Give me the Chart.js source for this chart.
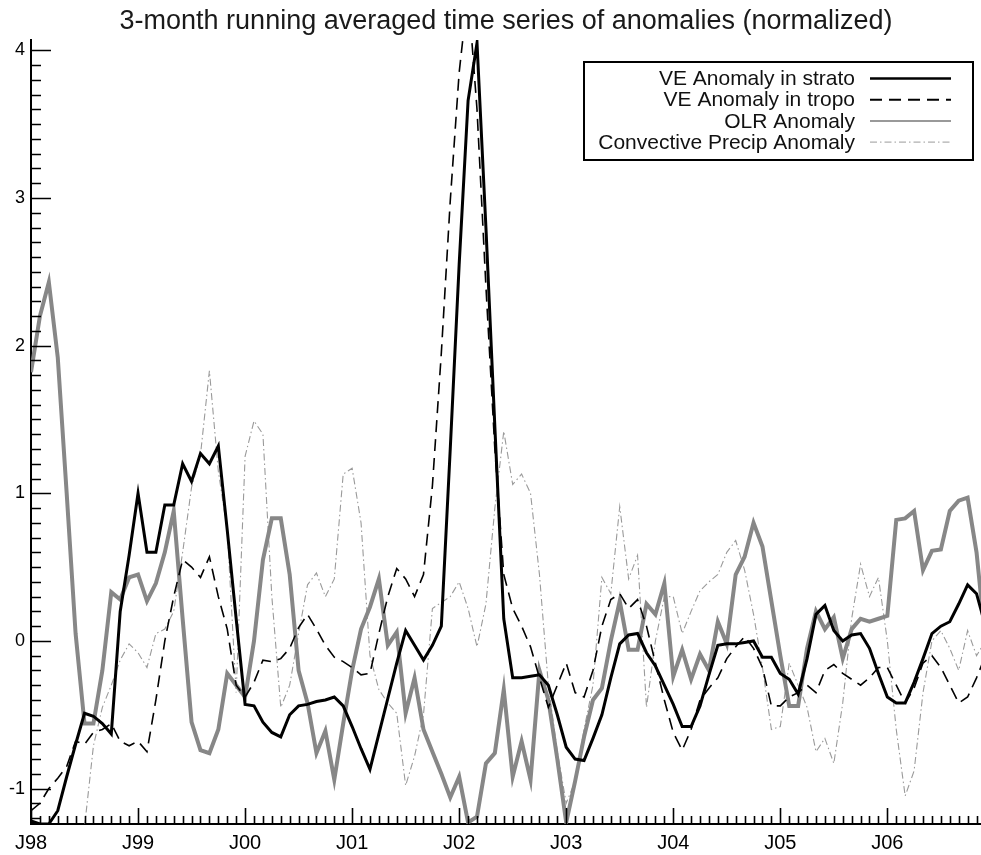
<!DOCTYPE html>
<html>
<head>
<meta charset="utf-8">
<script src="https://cdn.jsdelivr.net/npm/chart.js@4/dist/chart.umd.min.js"></script>
<style>
  html, body { margin: 0; padding: 0; background: #fff; }
  #chart { display: block; }
</style>
</head>
<body>
<canvas id="chart" width="981" height="855"></canvas>
<script>
/* 3-month running averaged anomalies, monthly from Jan 1998 */

const TITLE = '3-month running averaged time series of anomalies (normalized)';
const SERIES_NAMES = ['VE Anomaly in strato', 'VE Anomaly in tropo', 'OLR Anomaly', 'Convective Precip Anomaly'];

const X_TICK_MONTHS = [0, 12, 24, 36, 48, 60, 72, 84, 96];
const X_TICK_LABELS = ['J98', 'J99', 'J00', 'J01', 'J02', 'J03', 'J04', 'J05', 'J06'];
const Y_TICKS = [-1, 0, 1, 2, 3, 4];
const Y_TICK_LABELS = ['-1', '0', '1', '2', '3', '4'];

// values month by month (index 0 = Jan 1998)
const veStrato = [
  -1.22, -1.24, -1.24, -1.15, -0.92, -0.70, -0.49, -0.51, -0.56, -0.63, 0.20, 0.58,
  1.00, 0.60, 0.60, 0.92, 0.92, 1.20, 1.08, 1.27, 1.20, 1.32, 0.75, 0.15,
  -0.43, -0.44, -0.55, -0.62, -0.65, -0.50, -0.44, -0.43, -0.41, -0.40, -0.38, -0.44,
  -0.58, -0.73, -0.87, -0.63, -0.39, -0.15, 0.07, -0.03, -0.13, -0.03, 0.10, 1.30,
  2.55, 3.66, 4.05, 2.80, 1.45, 0.15, -0.25, -0.25, -0.24, -0.23, -0.30, -0.50,
  -0.72, -0.80, -0.81, -0.66, -0.50, -0.25, -0.02, 0.04, 0.05, -0.08, -0.17, -0.30,
  -0.43, -0.58, -0.58, -0.44, -0.23, -0.03, -0.02, -0.02, -0.01, 0.00, -0.11, -0.11,
  -0.22, -0.26, -0.36, -0.12, 0.18, 0.24, 0.07, 0.00, 0.04, 0.05, -0.05, -0.22,
  -0.38, -0.42, -0.42, -0.28, -0.12, 0.05, 0.10, 0.13, 0.25, 0.38, 0.32, 0.10
];
const veTropo = [
  -1.15, -1.10, -1.00, -0.93, -0.85, -0.68, -0.70, -0.62, -0.60, -0.56, -0.68, -0.71,
  -0.68, -0.75, -0.40, 0.00, 0.30, 0.55, 0.50, 0.43, 0.57, 0.30, 0.08, -0.30,
  -0.38, -0.28, -0.13, -0.14, -0.12, -0.05, 0.09, 0.18, 0.08, -0.03, -0.11, -0.14,
  -0.18, -0.23, -0.22, 0.05, 0.30, 0.49, 0.42, 0.30, 0.45, 1.05, 1.95, 2.98,
  3.85, 4.40, 3.60, 2.40, 1.30, 0.45, 0.22, 0.10, -0.04, -0.25, -0.45, -0.30,
  -0.15, -0.35, -0.38, -0.20, 0.10, 0.28, 0.32, 0.22, 0.28, 0.10, -0.15, -0.40,
  -0.62, -0.74, -0.60, -0.40, -0.32, -0.25, -0.12, -0.04, 0.03, -0.05, -0.18, -0.44,
  -0.44, -0.38, -0.35, -0.30, -0.35, -0.20, -0.16, -0.22, -0.26, -0.30, -0.25, -0.18,
  -0.18, -0.30, -0.42, -0.32, -0.15, -0.10, -0.18, -0.30, -0.42, -0.38, -0.25, -0.10
];
const olr = [
  1.82, 2.20, 2.43, 1.92, 1.00, 0.05, -0.56, -0.56, -0.20, 0.33, 0.28, 0.43,
  0.45, 0.27, 0.39, 0.60, 0.88, 0.15, -0.55, -0.74, -0.76, -0.60, -0.22, -0.30,
  -0.38, 0.00, 0.55, 0.83, 0.83, 0.45, -0.20, -0.42, -0.76, -0.61, -0.94, -0.56,
  -0.20, 0.08, 0.23, 0.42, -0.03, 0.06, -0.49, -0.25, -0.60, -0.75, -0.90, -1.06,
  -0.92, -1.23, -1.19, -0.83, -0.76, -0.33, -0.92, -0.68, -0.94, -0.20, -0.40, -0.80,
  -1.23, -0.95, -0.65, -0.40, -0.32, 0.00, 0.27, -0.06, -0.06, 0.25, 0.18, 0.39,
  -0.24, -0.06, -0.26, -0.09, -0.20, 0.13, -0.02, 0.45, 0.57, 0.80, 0.64, 0.27,
  -0.10, -0.44, -0.44, -0.05, 0.20, 0.08, 0.16, -0.12, 0.08, 0.15, 0.13, 0.15,
  0.17, 0.82, 0.83, 0.88, 0.48, 0.61, 0.62, 0.88, 0.95, 0.97, 0.60, 0.00
];
const convPrecip = [
  null, null, null, null, null, null, -1.26, -0.71, -0.45, -0.30, -0.13, -0.02,
  -0.08, -0.18, 0.05, 0.08, 0.20, 0.60, 1.04, 1.26, 1.83, 1.15, 0.75, -0.35,
  1.25, 1.49, 1.40, 0.30, -0.45, -0.30, 0.05, 0.38, 0.46, 0.30, 0.42, 1.13,
  1.17, 0.80, -0.10, -0.33, -0.42, -0.49, -0.98, -0.78, -0.50, 0.22, 0.26, 0.30,
  0.40, 0.22, -0.04, 0.25, 0.90, 1.42, 1.06, 1.13, 1.00, 0.45, -0.30, -0.75,
  -1.10, -0.95, -0.60, -0.30, 0.43, 0.32, 0.91, 0.42, 0.58, -0.45, 0.00, 0.30,
  0.30, 0.05, 0.20, 0.34, 0.40, 0.45, 0.60, 0.68, 0.48, 0.18, -0.18, -0.60,
  -0.58, -0.15, -0.30, -0.45, -0.75, -0.66, -0.83, -0.42, 0.15, 0.52, 0.30, 0.43,
  0.00, -0.60, -1.05, -0.88, -0.35, 0.00, 0.07, -0.05, -0.20, 0.07, -0.10, 0.00
];

const FONT = "'Liberation Sans', Arial, Helvetica, sans-serif";

function toPoints(arr) {
  return arr.map(function (v, i) { return { x: i, y: v }; });
}

const STYLES = [
  { color: '#000000', width: 3,   dash: [],             legendWidth: 2.5, legendDash: [] },
  { color: '#000000', width: 1.6, dash: [12, 7],        legendWidth: 2,   legendDash: [12, 7] },
  { color: '#878787', width: 4,   dash: [],             legendWidth: 1.5, legendDash: [] },
  { color: '#9a9a9a', width: 1.1, dash: [7, 3, 1.5, 3], legendWidth: 1,   legendDash: [7, 3, 1.5, 3] }
];
const VALUES = [veStrato, veTropo, olr, convPrecip];

/* ── inward axis ticks + boxed legend ── */
const decorPlugin = {
  id: 'decor',
  afterDraw: function (chart) {
    const ctx = chart.ctx, a = chart.chartArea, x = chart.scales.x, y = chart.scales.y;
    ctx.save();
    ctx.strokeStyle = '#000';
    ctx.lineWidth = 1.6;
    ctx.beginPath();
    for (let k = -12; k <= 40; k++) {
      const py = Math.round(y.getPixelForValue(k / 10)) + 0.5;
      const len = k % 10 === 0 ? 20 : 10;
      ctx.moveTo(a.left, py); ctx.lineTo(a.left + len, py);
    }
    for (let m = 0; m <= Math.floor(x.max); m++) {
      const px = Math.round(x.getPixelForValue(m)) + 0.5;
      const len = m % 12 === 0 ? 16 : 8;
      ctx.moveTo(px, a.bottom); ctx.lineTo(px, a.bottom - len);
    }
    ctx.stroke();

    // legend
    const box = { left: a.right - 397, top: a.top + 22, w: 389, h: 98 };
    ctx.fillStyle = '#fff';
    ctx.fillRect(box.left, box.top, box.w, box.h);
    ctx.lineWidth = 2;
    ctx.setLineDash([]);
    ctx.strokeRect(box.left, box.top, box.w, box.h);
    ctx.font = '21px ' + FONT;
    ctx.textAlign = 'right';
    ctx.textBaseline = 'middle';
    SERIES_NAMES.forEach(function (name, i) {
      const cy = box.top + 16.5 + i * 21.2;
      ctx.fillStyle = '#111';
      ctx.fillText(name, box.left + 271, cy + 1);
      const st = STYLES[i];
      ctx.beginPath();
      ctx.strokeStyle = i === 2 ? '#777' : st.color;
      ctx.lineWidth = st.legendWidth;
      ctx.setLineDash(st.legendDash);
      ctx.moveTo(box.left + 286, cy); ctx.lineTo(box.left + 367, cy);
      ctx.stroke();
    });
    ctx.restore();
  }
};

new Chart(document.getElementById('chart'), {
  type: 'line',
  data: {
    datasets: SERIES_NAMES.map(function (name, i) {
      return {
        label: name,
        data: toPoints(VALUES[i]),
        borderColor: STYLES[i].color,
        borderWidth: STYLES[i].width,
        borderDash: STYLES[i].dash,
        pointRadius: 0,
        tension: 0,
        fill: false,
        spanGaps: false,
        clip: 0
      };
    })
  },
  options: {
    responsive: false,
    animation: false,
    events: [],
    layout: { padding: 0 },
    plugins: {
      legend: { display: false },
      tooltip: { enabled: false },
      title: {
        display: true,
        text: TITLE,
        fullSize: false,
        color: '#1a1a1a',
        font: { family: FONT, size: 27, weight: 'normal' },
        padding: { top: 5, bottom: 2.6 }
      }
    },
    scales: {
      x: {
        type: 'linear',
        min: 0,
        max: 106.5,
        afterBuildTicks: function (s) { s.ticks = X_TICK_MONTHS.map(function (v) { return { value: v }; }); },
        afterFit: function (s) { s.height = 31; },
        grid: { display: false, drawTicks: false },
        border: { display: true, color: '#000', width: 2 },
        ticks: {
          autoSkip: false, maxRotation: 0, padding: 7,
          color: '#000', font: { family: FONT, size: 20 },
          callback: function (v, i) { return X_TICK_LABELS[i]; }
        }
      },
      y: {
        type: 'linear',
        min: -1.24,
        max: 4.07,
        afterBuildTicks: function (s) { s.ticks = Y_TICKS.map(function (v) { return { value: v }; }); },
        afterFit: function (s) { s.width = 31; },
        grid: { display: false, drawTicks: false },
        border: { display: true, color: '#000', width: 2 },
        ticks: {
          padding: 6,
          color: '#000', font: { family: FONT, size: 18 },
          callback: function (v, i) { return Y_TICK_LABELS[i]; }
        }
      }
    }
  },
  plugins: [decorPlugin]
});
</script>
</body>
</html>
